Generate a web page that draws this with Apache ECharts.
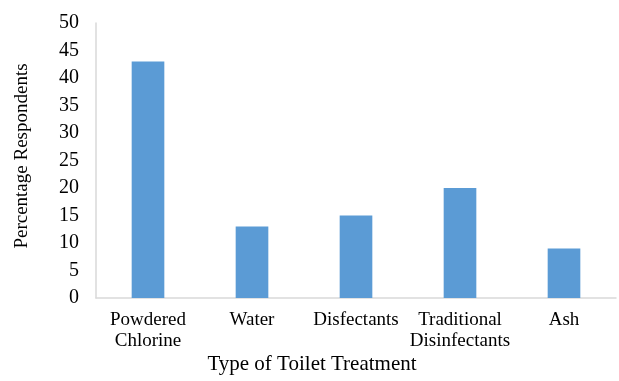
<!DOCTYPE html>
<html>
<head>
<meta charset="utf-8">
<script src="https://cdn.jsdelivr.net/npm/echarts@6/dist/echarts.min.js"></script>
<style>
  html, body { margin: 0; padding: 0; background: #fff; }
  #chart { width: 619px; height: 381px; }
</style>
</head>
<body>
<div id="chart"></div>
<script>
// Toilet treatment types and share of respondents using each
const categories = ['Powdered\nChlorine', 'Water', 'Disfectants', 'Traditional\nDisinfectants', 'Ash'];
const percentages = [43, 13, 15, 20, 9];
const yTicks = { min: 0, max: 50, interval: 5 };

const serif = '"Liberation Serif", "Times New Roman", serif';
const chart = echarts.init(document.getElementById('chart'));

chart.setOption({
  animation: false,
  backgroundColor: '#ffffff',
  title: {
    text: 'Type of Toilet Treatment',
    left: 312,
    top: 354,
    textAlign: 'center',
    padding: 0,
    textStyle: { fontFamily: serif, fontSize: 21, fontWeight: 'normal', color: '#000' }
  },
  grid: { left: 96, right: 3, top: 23, bottom: 83, containLabel: false },
  xAxis: {
    type: 'category',
    data: categories,
    axisLine: { show: true, lineStyle: { color: '#d9d9d9', width: 1.5 } },
    axisTick: { show: false },
    axisLabel: {
      interval: 0,
      margin: 12,
      fontFamily: serif,
      fontSize: 19,
      lineHeight: 21,
      color: '#000'
    }
  },
  yAxis: {
    type: 'value',
    min: yTicks.min,
    max: yTicks.max,
    interval: yTicks.interval,
    name: 'Percentage Respondents',
    nameLocation: 'middle',
    nameGap: 64,
    nameTextStyle: { fontFamily: serif, fontSize: 19, color: '#000', padding: [0, 0, 0, 9] },
    axisLine: { show: true, lineStyle: { color: '#d9d9d9', width: 1.5 } },
    axisTick: { show: false },
    splitLine: { show: false },
    axisLabel: { margin: 17, fontFamily: serif, fontSize: 20, color: '#000' }
  },
  series: [{
    type: 'bar',
    data: percentages,
    barWidth: '31.4%',
    itemStyle: { color: '#5b9bd5' }
  }]
});
</script>
</body>
</html>
